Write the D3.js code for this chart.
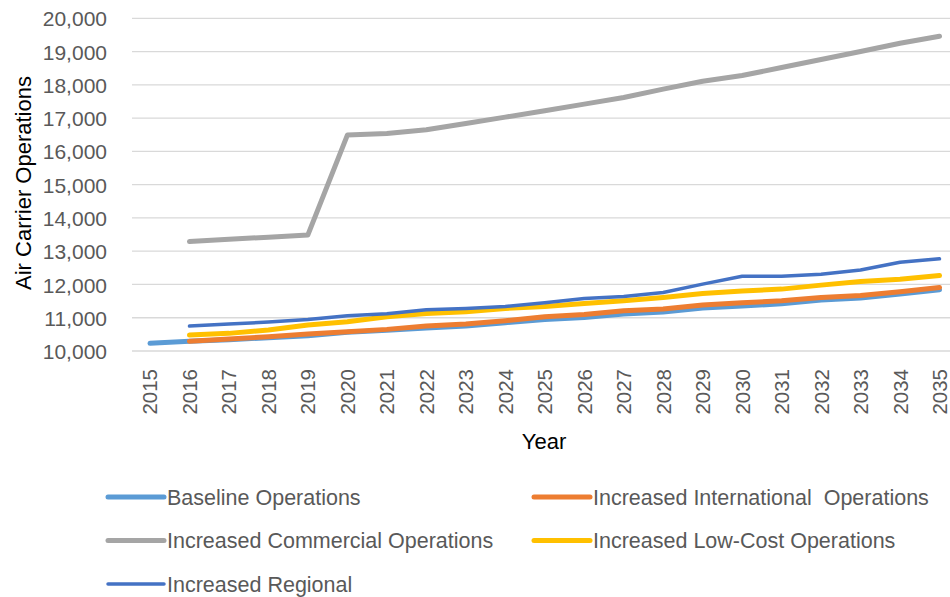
<!DOCTYPE html>
<html>
<head>
<meta charset="utf-8">
<script src="https://cdn.jsdelivr.net/npm/d3@7"></script>
<style>
  html, body { margin: 0; padding: 0; background: #fff; }
  svg { display: block; font-family: "Liberation Sans", Arial, sans-serif; }
</style>
</head>
<body>
<svg id="chart" width="950" height="597"></svg>
<script>
const years = [2015, 2016, 2017, 2018, 2019, 2020, 2021, 2022, 2023, 2024, 2025,
               2026, 2027, 2028, 2029, 2030, 2031, 2032, 2033, 2034, 2035];
const yTicks = [10000, 11000, 12000, 13000, 14000, 15000, 16000, 17000, 18000, 19000, 20000];

const baseline = [10230, 10290, 10340, 10400, 10460, 10560, 10620, 10690, 10750, 10850, 10950,
                  11010, 11110, 11170, 11290, 11350, 11420, 11530, 11590, 11710, 11840];
const international = [null, 10290, 10360, 10430, 10510, 10580, 10650, 10750, 10810, 10910, 11030,
                       11100, 11210, 11260, 11380, 11450, 11510, 11610, 11670, 11780, 11910];
const commercial = [null, 13290, 13360, 13420, 13490, 16490, 16540, 16650, 16840, 17030, 17220,
                    17420, 17620, 17870, 18110, 18280, 18520, 18760, 19000, 19250, 19460];
const lowCost = [null, 10480, 10530, 10630, 10780, 10880, 11030, 11130, 11180, 11280, 11340,
                 11430, 11510, 11610, 11730, 11800, 11860, 11980, 12090, 12160, 12270];
const regional = [null, 10750, 10810, 10870, 10950, 11060, 11120, 11240, 11280, 11340, 11450,
                  11580, 11640, 11760, 12010, 12245, 12245, 12310, 12435, 12670, 12770];

const seriesNames = ["Baseline Operations", "Increased International  Operations",
                     "Increased Commercial Operations", "Increased Low-Cost Operations",
                     "Increased Regional"];
const seriesColors = ["#5B9BD5", "#ED7D31", "#A5A5A5", "#FFC000", "#4472C4"];
const seriesWidths = [5, 5, 5, 5, 3.5];
const seriesData = [baseline, international, commercial, lowCost, regional];

const svg = d3.select("#chart");
const W = 950;

const x = d3.scalePoint().domain(years).range([150, 939.5]);
const y = d3.scaleLinear().domain([10000, 20000]).range([351, 18.3]);

// gridlines
svg.append("g").selectAll("line").data(yTicks).join("line")
  .attr("x1", x(2015) - 18).attr("x2", W + 10)
  .attr("y1", d => y(d)).attr("y2", d => y(d))
  .attr("stroke", "#D9D9D9").attr("stroke-width", 1.3);

// y axis labels
const yAxis = d3.axisLeft(y).tickValues(yTicks).tickFormat(d3.format(",")).tickSize(0).tickPadding(0);
const gy = svg.append("g").attr("transform", "translate(107,0)").call(yAxis);
gy.select(".domain").remove();
gy.selectAll("text").attr("font-size", 21).attr("fill", "#595959")
  .attr("font-family", "Liberation Sans, Arial, sans-serif").attr("dy", "0.36em");

// x axis labels
const xAxis = d3.axisBottom(x).tickSize(0).tickPadding(0);
const gx = svg.append("g").attr("transform", "translate(0,351)").call(xAxis);
gx.select(".domain").remove();
gx.selectAll("text")
  .attr("font-size", 20.5).attr("fill", "#595959")
  .attr("font-family", "Liberation Sans, Arial, sans-serif")
  .attr("text-anchor", "end")
  .attr("transform", "translate(0,18) rotate(-90)")
  .attr("x", 0).attr("y", 0).attr("dy", "0.34em");

// lines
const line = d3.line()
  .defined(d => d.v != null)
  .x(d => x(d.year)).y(d => y(d.v));

seriesData.forEach((arr, i) => {
  const pts = years.map((yr, j) => ({ year: yr, v: arr[j] }));
  svg.append("path").datum(pts)
    .attr("d", line)
    .attr("fill", "none")
    .attr("stroke", seriesColors[i])
    .attr("stroke-width", seriesWidths[i])
    .attr("stroke-linecap", "round")
    .attr("stroke-linejoin", "round");
});

// axis titles
svg.append("text").attr("x", 544).attr("y", 449)
  .attr("text-anchor", "middle").attr("font-size", 22).attr("fill", "#000")
  .text("Year");
svg.append("text").attr("transform", "translate(31,183) rotate(-90)")
  .attr("text-anchor", "middle").attr("font-size", 22).attr("fill", "#000")
  .text("Air Carrier Operations");

// legend
const legendPos = [
  { lx: 108, ly: 497 }, { lx: 534, ly: 497 },
  { lx: 108, ly: 540.5 }, { lx: 534, ly: 540.5 },
  { lx: 108, ly: 584 }
];
const lg = svg.append("g");
seriesNames.forEach((name, i) => {
  const p = legendPos[i];
  lg.append("line")
    .attr("x1", p.lx).attr("x2", p.lx + 56)
    .attr("y1", p.ly).attr("y2", p.ly)
    .attr("stroke", seriesColors[i]).attr("stroke-width", seriesWidths[i])
    .attr("stroke-linecap", "round");
  lg.append("text")
    .attr("x", p.lx + 59).attr("y", p.ly).attr("dy", "0.36em")
    .attr("font-size", 21.5).attr("fill", "#595959")
    .attr("xml:space", "preserve")
    .style("white-space", "pre")
    .text(name);
});
</script>
</body>
</html>
